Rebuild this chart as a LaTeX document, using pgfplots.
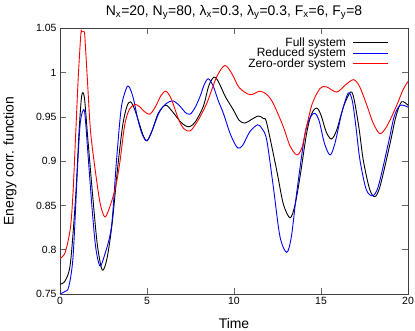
\documentclass[border=0pt]{standalone}
\usepackage{fontspec}
\setmainfont{Liberation Sans}
\usepackage{pgfplots}
\pgfplotsset{compat=1.18}
\begin{document}
\begin{tikzpicture}
\path[use as bounding box] (-60bp,-37bp) rectangle (355bp,294bp);
\begin{axis}[
  at={(0,0)}, anchor=south west,
  scale only axis, width=348bp, height=265.7bp,
  xmin=0, xmax=20, ymin=0.75, ymax=1.05,
  xtick={0,5,10,15,20},
  ytick={0.75,0.8,0.85,0.9,0.95,1,1.05},
  tick align=inside, major tick length=6bp,
  axis line style={black!75, line width=0.5pt},
  tick style={black!60, line width=0.5pt},
  /pgf/number format/assume math mode=true,
  ticklabel style={font=\fontsize{10.5}{12}\selectfont},
  every axis title shift=0pt,
  title={N\textsubscript{x}=20, N\textsubscript{y}=80, λ\textsubscript{x}=0.3, λ\textsubscript{y}=0.3, F\textsubscript{x}=6, F\textsubscript{y}=8},
  title style={at={(axis description cs:0.5,1.05)}, anchor=base, yshift=0pt, font=\fontsize{14}{16}\selectfont, inner sep=0pt},
  xlabel={Time},
  xlabel style={at={(axis description cs:0.5,-0.128)}, anchor=base, font=\fontsize{14}{16}\selectfont, inner sep=0pt},
  ylabel={Energy corr. function},
  ylabel style={at={(axis description cs:-0.1336,0.5)}, anchor=base, rotate=0, font=\fontsize{14}{16}\selectfont, inner sep=0pt},
  legend style={draw=none, fill=none, at={(axis description cs:0.954,0.978)}, anchor=north east,
    font=\fontsize{12}{13}\selectfont, row sep=-1.5bp, column sep=6bp, nodes={inner sep=1bp}},
  legend cell align=right,
  legend plot pos=right,
  legend image code/.code={\draw[#1] (0bp,0bp) -- (35bp,0bp);},
  every axis plot/.append style={line width=0.9pt, smooth, tension=0.5},
]
\addplot[black] coordinates {
(0,0.761) (0.3,0.765) (0.6,0.785) (0.9,0.86) (1.1,0.935) (1.25,0.974) (1.4,0.972)
(1.6,0.925) (1.9,0.856) (2.15,0.805) (2.43,0.777) (2.7,0.790) (3.0,0.83) (3.3,0.89)
(3.6,0.94) (3.85,0.962) (4.06,0.967) (4.3,0.958) (4.58,0.941) (4.8,0.928) (5.0,0.923)
(5.25,0.932) (5.6,0.952) (5.9,0.961) (6.13,0.963) (6.5,0.955) (6.9,0.945) (7.2,0.940)
(7.47,0.939) (7.8,0.945) (8.24,0.962) (8.55,0.985) (8.85,0.995) (9.1,0.990) (9.5,0.973)
(9.96,0.958) (10.3,0.946) (10.63,0.943) (11.0,0.947) (11.4,0.951) (11.7,0.948) (11.88,0.943)
(12.45,0.890) (12.83,0.852) (13.22,0.836) (13.5,0.850) (13.8,0.883) (14.17,0.931) (14.45,0.953)
(14.75,0.960) (15.0,0.952) (15.3,0.933) (15.6,0.925) (15.9,0.935) (16.3,0.962) (16.7,0.978)
(16.9,0.970) (17.2,0.935) (17.43,0.901) (17.8,0.868) (18.1,0.860) (18.4,0.872) (18.97,0.920)
(19.3,0.950) (19.63,0.967) (20,0.963)
};
\addlegendentry{Full system}
\addplot[blue] coordinates {
(0,0.750) (0.3,0.753) (0.5,0.758) (0.75,0.792) (1.0,0.890) (1.15,0.940) (1.28,0.955) (1.42,0.955)
(1.6,0.91) (1.85,0.845) (2.05,0.803) (2.28,0.782) (2.5,0.790) (2.95,0.825) (3.24,0.899)
(3.52,0.960) (3.81,0.982) (3.97,0.984) (4.2,0.972) (4.5,0.945) (4.75,0.929) (5.0,0.923)
(5.3,0.935) (5.7,0.955) (6.1,0.965) (6.5,0.968) (6.9,0.962) (7.2,0.955) (7.47,0.953)
(7.75,0.960) (8.05,0.973) (8.3,0.987) (8.53,0.993) (8.8,0.985) (9.1,0.968) (9.39,0.954)
(9.8,0.930) (10.2,0.915) (10.5,0.918) (10.9,0.933) (11.35,0.941) (11.6,0.937) (11.88,0.924)
(12.26,0.871) (12.64,0.815) (13.03,0.797) (13.3,0.815) (13.6,0.864) (14.08,0.931) (14.4,0.950)
(14.66,0.954) (14.9,0.945) (15.2,0.920) (15.52,0.907) (15.8,0.920) (16.2,0.955) (16.57,0.977)
(16.8,0.968) (17.0,0.940) (17.24,0.901) (17.6,0.868) (17.97,0.861) (18.3,0.872) (18.87,0.920)
(19.2,0.950) (19.54,0.963) (20,0.961)
};
\addlegendentry{Reduced system}
\addplot[red] coordinates {
(0,0.790) (0.3,0.797) (0.6,0.825) (0.75,0.865) (0.9,0.93) (1.05,0.995) (1.2,1.044) (1.25,1.046) (1.38,1.046) (1.43,1.040)
(1.58,0.99) (1.75,0.935) (1.99,0.895) (2.3,0.853) (2.57,0.837) (2.8,0.845) (3.05,0.86)
(3.24,0.875) (3.45,0.900) (3.72,0.941) (4.0,0.959) (4.33,0.964) (4.6,0.961) (4.85,0.956)
(5.17,0.953) (5.5,0.962) (5.8,0.974) (6.09,0.979) (6.4,0.970) (6.8,0.948) (7.1,0.937)
(7.47,0.934) (7.9,0.945) (8.43,0.965) (9.0,0.995) (9.48,1.008) (9.9,0.998) (10.3,0.983)
(10.92,0.975) (11.49,0.979) (11.9,0.975) (12.26,0.965) (12.83,0.939) (13.2,0.918) (13.6,0.907)
(13.9,0.915) (14.17,0.939) (14.5,0.965) (14.94,0.982) (15.3,0.984) (15.9,0.978) (16.4,0.986)
(16.86,0.992) (17.2,0.985) (17.6,0.965) (18.0,0.943) (18.39,0.931) (18.8,0.940) (19.35,0.963)
(19.7,0.980) (20,0.990)
};
\addlegendentry{Zero-order system}
\end{axis}
\end{tikzpicture}
\end{document}
